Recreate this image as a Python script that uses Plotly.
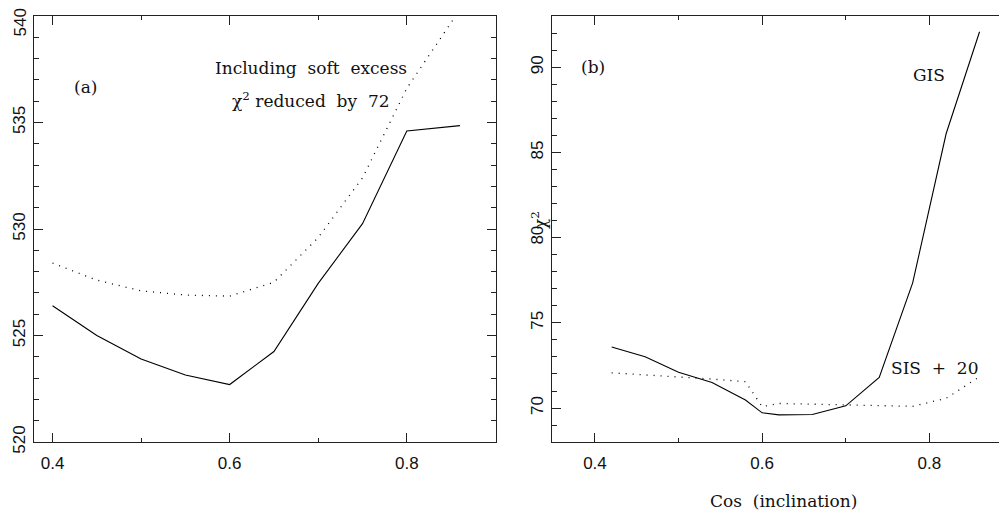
import plotly.graph_objects as go

# ---------------- data ----------------
# Panel (a)
a_x = [0.40, 0.45, 0.50, 0.55, 0.60, 0.65, 0.70, 0.75, 0.80, 0.86]
a_solid = [526.4, 525.0, 523.9, 523.15, 522.7, 524.25, 527.45, 530.25, 534.6, 534.85]
a_dotted = [528.4, 527.6, 527.1, 526.9, 526.85, 527.5, 529.6, 532.4, 536.6, 540.3]

# Panel (b)
b_x = [0.42, 0.46, 0.50, 0.54, 0.58, 0.60, 0.62, 0.66, 0.70, 0.74, 0.78, 0.82, 0.86]
gis = [73.58, 73.01, 72.1, 71.5, 70.47, 69.72, 69.6, 69.62, 70.13, 71.8, 77.35, 86.1, 92.09]
sis_plus20 = [72.07, 71.95, 71.85, 71.7, 71.55, 70.08, 70.27, 70.23, 70.2, 70.17, 70.1, 70.57, 71.84]

x_ticks = [0.4, 0.6, 0.8]
x_tick_text = ["0.4", "0.6", "0.8"]
a_y_ticks = [520, 525, 530, 535, 540]
a_y_tick_text = ["520", "525", "530", "535", ""]  # top label drawn separately
a_y_top_label = "540"
b_y_ticks = [70, 75, 80, 85, 90]

W, H = 1007, 514
OFF = 8  # default page body margin shifts the figure by this many pixels


def px(x):
    # screen pixel -> paper fraction
    return (x - OFF) / W


def py(y):
    return 1 - (y - OFF) / H


fig = go.Figure()

line_solid = dict(color="black", width=1.1)
line_dot = dict(color="black", width=1.3, dash="1px,6px")

fig.add_trace(go.Scatter(x=a_x, y=a_solid, mode="lines", line=line_solid,
                         xaxis="x", yaxis="y", showlegend=False))
fig.add_trace(go.Scatter(x=a_x, y=a_dotted, mode="lines", line=line_dot,
                         xaxis="x", yaxis="y", showlegend=False))
fig.add_trace(go.Scatter(x=b_x, y=gis, mode="lines", line=line_solid,
                         xaxis="x2", yaxis="y2", showlegend=False))
fig.add_trace(go.Scatter(x=b_x, y=sis_plus20, mode="lines", line=line_dot,
                         xaxis="x2", yaxis="y2", showlegend=False))

tick_font = dict(family="Liberation Sans, Arial, sans-serif", size=17, color="#111")
ann_font = dict(family="DejaVu Serif, serif", size=17, color="#111")

y_dom = [py(442.3), py(15.7)]

common_x = dict(
    showline=True, linecolor="#222", linewidth=1, mirror="ticks",
    ticks="inside", ticklen=9, tickwidth=1, tickcolor="#222",
    tickvals=x_ticks, ticktext=x_tick_text, tickfont=tick_font,
    showgrid=False, zeroline=False, ticklabelstandoff=5,
    ticklabeloverflow="allow", automargin=False,
    minor=dict(dtick=0.1, tick0=0.0, ticks="inside", ticklen=4.5,
               tickwidth=1, tickcolor="#222", showgrid=False),
)

common_y = dict(
    showline=True, linecolor="#222", linewidth=1, mirror="ticks",
    ticks="inside", ticklen=9, tickwidth=1, tickcolor="#222",
    tickfont=tick_font, tickangle=-90,
    showgrid=False, zeroline=False, ticklabelstandoff=2,
    ticklabeloverflow="allow", automargin=False,
    minor=dict(dtick=1, ticks="inside", ticklen=4.5, tickwidth=1,
               tickcolor="#222", showgrid=False),
)

fig.update_layout(
    width=W, height=H,
    margin=dict(l=0, r=0, t=0, b=0, autoexpand=False),
    paper_bgcolor="white", plot_bgcolor="white",
    xaxis=dict(common_x, domain=[px(34.3), px(495.7)], range=[0.3794, 0.9004],
               anchor="y"),
    yaxis=dict(common_y, domain=y_dom, range=[519.99, 540.01], anchor="x",
               tickvals=a_y_ticks, ticktext=a_y_tick_text),
    xaxis2=dict(common_x, domain=[px(552.3), px(1013.0)], range=[0.349, 0.9],
                anchor="y2"),
    yaxis2=dict(common_y, domain=y_dom, range=[67.99, 93.03], anchor="x2",
                tickvals=b_y_ticks),
)


def ann(text, x, y, size=17, angle=0, font=None):
    f = dict(font or ann_font, size=size)
    fig.add_annotation(text=text, x=px(x), y=py(y), xref="paper", yref="paper",
                       showarrow=False, xanchor="center", yanchor="middle",
                       font=f, textangle=angle)


def spaced(s):
    return s.replace(" ", "\u00a0\u00a0")


ann(a_y_top_label, 19.5, 23, angle=-90, font=tick_font)
ann("(a)", 85, 87)
ann(spaced("Including soft excess"), 311, 68)
ann("χ<sup>2</sup>\u00a0reduced\u00a0\u00a0by\u00a0\u00a072", 311, 100)
ann("(b)", 592.5, 67)
ann("GIS", 929, 75)
ann(spaced("SIS + 20"), 935, 368)
ann(spaced("Cos (inclination)"), 783, 501)
ann("χ<sup>2</sup>", 539, 220, size=17, angle=-90)

fig.write_html("out.html")
